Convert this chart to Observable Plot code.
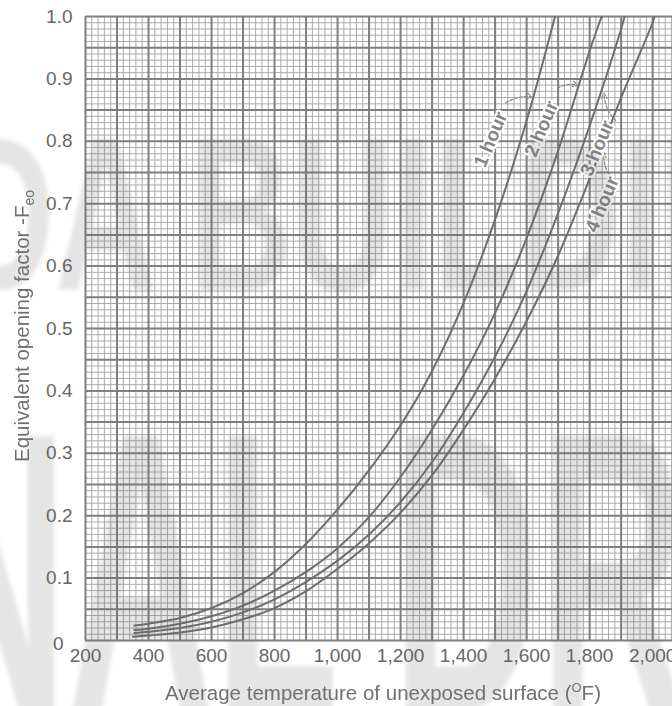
<!DOCTYPE html>
<html>
<head>
<meta charset="utf-8">
<script src="https://cdn.jsdelivr.net/npm/d3@7"></script>
<script src="https://cdn.jsdelivr.net/npm/@observablehq/plot@0.6"></script>
<style>
  html, body { margin: 0; padding: 0; background: #fff; overflow: hidden; }
</style>
</head>
<body>
<div id="chart"></div>
<script>
// ---- data ----
const xTicks = [200, 400, 600, 800, 1000, 1200, 1400, 1600, 1800, 2000];
const yTicks = [0, 0.1, 0.2, 0.3, 0.4, 0.5, 0.6, 0.7, 0.8, 0.9, 1.0];

const temp1h = [355, 400, 500, 600, 700, 800, 900, 1000, 1100, 1200, 1300, 1400, 1500, 1600, 1690];
const feo1h  = [0.024, 0.027, 0.036, 0.052, 0.076, 0.110, 0.155, 0.210, 0.273, 0.345, 0.432, 0.541, 0.675, 0.833, 1.0];

const temp2h = [355, 400, 500, 600, 700, 800, 900, 1000, 1100, 1200, 1300, 1400, 1500, 1600, 1700, 1800, 1838];
const feo2h  = [0.017, 0.019, 0.027, 0.039, 0.056, 0.080, 0.110, 0.148, 0.198, 0.262, 0.338, 0.425, 0.525, 0.645, 0.785, 0.945, 1.0];

const temp3h = [355, 400, 500, 600, 700, 800, 900, 1000, 1100, 1200, 1300, 1400, 1500, 1600, 1700, 1800, 1900, 1911];
const feo3h  = [0.012, 0.014, 0.020, 0.030, 0.045, 0.066, 0.094, 0.128, 0.170, 0.222, 0.286, 0.365, 0.455, 0.560, 0.685, 0.825, 0.980, 1.0];

const temp4h = [350, 400, 500, 600, 700, 800, 900, 1000, 1100, 1200, 1300, 1400, 1500, 1600, 1700, 1800, 1900, 2000, 2006];
const feo4h  = [0.006, 0.008, 0.013, 0.021, 0.034, 0.052, 0.079, 0.115, 0.156, 0.205, 0.265, 0.338, 0.420, 0.512, 0.617, 0.740, 0.870, 0.990, 1.0];

const seriesNames = ["1 hour", "2 hour", "3 hour", "4 hour"];
const seriesTemps = [temp1h, temp2h, temp3h, temp4h];
const seriesFeo   = [feo1h, feo2h, feo3h, feo4h];

// label anchors (temperature, Feo) for the rotated curve labels
const labelT = [1486, 1647, 1824, 1840];
const labelF = [0.803, 0.820, 0.789, 0.699];
// leader arrows: from label end to curve
const arrowT1 = [1533, 1698, 1883, 1862];
const arrowF1 = [0.861, 0.885, 0.833, 0.748];
const arrowT2 = [1618, 1762, 1846, 1846];
const arrowF2 = [0.871, 0.890, 0.877, 0.782];

const xTitle = "Average temperature of unexposed surface (";
const yTitle = "Equivalent opening factor -F";
const watermarkTop = "DA BUILDIN";
const watermarkBottom = "NAL DR";

// ---- build tables ----
const lineData = seriesNames.flatMap((name, i) =>
  seriesTemps[i].map((t, j) => ({series: name, T: t, F: seriesFeo[i][j]})));
const labelData = seriesNames.map((name, i) => ({name, T: labelT[i], F: labelF[i]}));
const arrowData = seriesNames.map((name, i) => ({x1: arrowT1[i], y1: arrowF1[i], x2: arrowT2[i], y2: arrowF2[i]}));

const xMinor = d3.range(200, 2070, 20);
const xMajor = d3.range(200, 2070, 100);
const yMinor = d3.range(0, 100.5, 1).map(d => d / 100);
const yMajor = d3.range(0, 20.5, 1).map(d => d / 20);

const font = "'Liberation Sans', Arial, Helvetica, sans-serif";
const minorColor = "#ababab";
const majorColor = "#7f7f7f";
const curveColor = "#6e6e6e";

const svg = Plot.plot({
  width: 672,
  height: 706,
  marginLeft: 85,
  marginRight: 0,
  marginTop: 16,
  marginBottom: 66,
  style: {fontFamily: font, fontSize: "19px", color: "#666", background: "#fff"},
  x: {domain: [200, 2063]},
  y: {domain: [0, 1]},
  marks: [
    Plot.ruleX(xMinor, {y1: 0, y2: 1, stroke: minorColor, strokeWidth: 1}),
    Plot.ruleY(yMinor, {x1: 200, x2: 2063, stroke: minorColor, strokeWidth: 1}),
    Plot.ruleX(xMajor, {y1: 0, y2: 1, stroke: majorColor, strokeWidth: 2}),
    Plot.ruleY(yMajor, {x1: 200, x2: 2063, stroke: majorColor, strokeWidth: 2}),
    Plot.line(lineData, {x: "T", y: "F", z: "series", stroke: curveColor, strokeWidth: 2, curve: "catmull-rom", clip: true}),
    Plot.arrow(arrowData, {x1: "x1", y1: "y1", x2: "x2", y2: "y2", stroke: "#888", strokeWidth: 1.2, strokeDasharray: "3,2", bend: true, headLength: 7}),
    Plot.text(labelData, {x: "T", y: "F", text: "name", rotate: -67, fontSize: 19, fontWeight: "bold", fill: "#858585", stroke: "white", strokeWidth: 4, paintOrder: "stroke"}),
    Plot.axisX({ticks: xTicks, tickFormat: d3.format(","), tickSize: 0, tickPadding: 8, label: null}),
    Plot.axisY({ticks: yTicks.filter(d => d > 0), tickFormat: d3.format(".1f"), tickSize: 0, tickPadding: 13, label: null}),
    Plot.axisY({ticks: [0], tickFormat: () => "0", tickSize: 0, tickPadding: 22, dy: 3, label: null})
  ]
});

const s = d3.select(svg);

// faint watermark overlay (scaled horizontally to the condensed look of the original)
const defs = s.append("defs");
defs.append("filter").attr("id", "wmblur").append("feGaussianBlur").attr("stdDeviation", 2);
const wm = s.append("g")
  .attr("opacity", 0.17)
  .attr("filter", "url(#wmblur)")
  .attr("pointer-events", "none")
  .attr("text-anchor", "start")
  .style("font-family", font).style("font-weight", "bold");
wm.append("text").attr("transform", "translate(-47,290) scale(0.643,1)")
  .attr("text-anchor", "start")
  .attr("x", 0).attr("y", 0).style("font-size", "219px").text(watermarkTop);
wm.append("text").attr("transform", "translate(-80,711) scale(0.51,1)")
  .attr("text-anchor", "start")
  .attr("x", 0).attr("y", 0).style("font-size", "400px").text(watermarkBottom);

// axis titles with super/subscripts
const xt = s.append("text")
  .attr("x", 383).attr("y", 700)
  .attr("text-anchor", "middle")
  .attr("fill", "#707070")
  .style("font-family", font).style("font-size", "20.5px");
xt.append("tspan").text(xTitle);
xt.append("tspan").attr("dy", -8).style("font-size", "13px").text("O");
xt.append("tspan").attr("dy", 8).text("F)");

const yt = s.append("text")
  .attr("transform", "translate(29,326) rotate(-90)")
  .attr("text-anchor", "middle")
  .attr("fill", "#707070")
  .style("font-family", font).style("font-size", "20.5px");
yt.append("tspan").text(yTitle);
yt.append("tspan").attr("dy", 5).style("font-size", "14px").text("eo");

document.getElementById("chart").appendChild(svg);
</script>
</body>
</html>
